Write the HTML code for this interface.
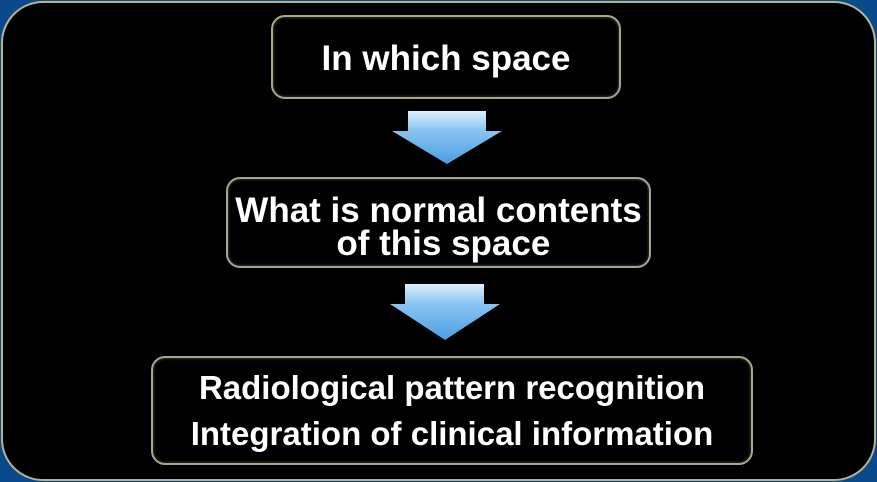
<!DOCTYPE html>
<html><head><style>
body{margin:0;width:877px;height:482px;background:#0a4a8c;overflow:hidden;font-family:"Liberation Sans",sans-serif}
.frame{position:absolute;left:1px;top:1px;width:871px;height:476px;background:#000;border:2px solid #b5b48c;border-radius:42px}
.box{position:absolute;border:2px solid #a9a686;border-radius:14px;box-shadow:inset 0 0 3px #555;background:#000;color:#fff;font-weight:bold;text-align:center;display:flex;align-items:center;justify-content:center;box-sizing:border-box}
</style></head><body>
<div class="frame"></div>
<div class="box" style="left:271px;top:15px;font-size:35px;padding-top:3px;width:350px;height:84px">In which space</div>
<div class="box" style="left:226px;top:177px;width:425px;height:91px;font-size:35px;line-height:33px;padding-top:8px">What is normal contents<br>&nbsp;of this space</div>
<div class="box" style="left:151px;top:356px;width:602px;height:109px;font-size:33px;line-height:46px">Radiological pattern recognition<br>Integration of clinical information</div>
<svg width="877" height="482" style="position:absolute;left:0;top:0">
<defs><linearGradient id="g" x1="0" y1="0" x2="0" y2="1"><stop offset="0" stop-color="#dff0ff"/><stop offset="0.35" stop-color="#8cc6f2"/><stop offset="1" stop-color="#4a9ee0"/></linearGradient></defs>
<polygon points="408,111 486,111 486,131 502,131 447,164 392,131 408,131" fill="url(#g)"/>
<polygon points="405,284 484,284 484,304 500,304 445,340 390,304 405,304" fill="url(#g)"/>
</svg>
</body></html>
